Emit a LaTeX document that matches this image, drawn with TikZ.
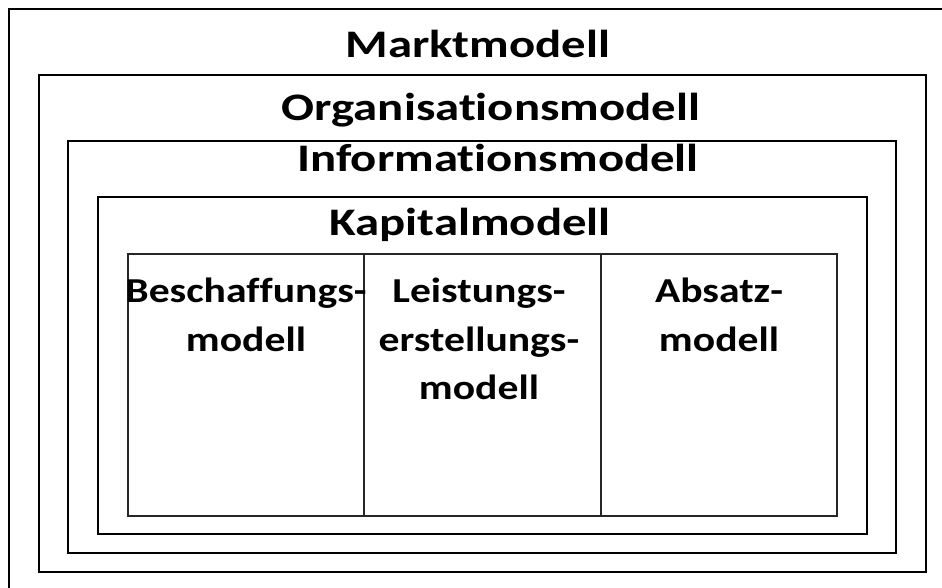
\documentclass[tikz,border=0pt]{standalone}
\usepackage{graphicx}
\usepackage{fontspec}
\setmainfont{Carlito}[Ligatures={NoCommon}]
\newcommand{\tx}[1]{\scalebox{1.25}[1]{#1}}
\newcommand{\cx}[1]{\scalebox{1.19}[1]{#1}}
\begin{document}
\begin{tikzpicture}[x=1pt,y=-1pt,
  frame/.style={draw=black,line width=2.6pt,rectangle,inner sep=0pt,outer sep=0pt},
  cell/.style={draw=black!85,line width=1.3pt,rectangle,inner sep=0pt,outer sep=0pt},
  title/.style={font=\bfseries\fontsize{39}{41}\selectfont,anchor=base,inner sep=0pt},
  celltext/.style={font=\bfseries\fontsize{35}{48.5}\selectfont,anchor=north,align=center,inner sep=0pt}]
\useasboundingbox (0,0) rectangle (942,588);
\clip (0,0) rectangle (942,588);
\fill[white] (0,0) rectangle (942,588);
\node[frame,minimum width=951pt,minimum height=601pt] (markt) at (484.5,309.5) {};
\node[frame,minimum width=887pt,minimum height=497pt] (org) at (482.5,323.5) {};
\node[frame,minimum width=828pt,minimum height=412pt] (info) at (482,347) {};
\node[frame,minimum width=769pt,minimum height=337pt] (kap) at (482.5,365.5) {};
\node[cell,minimum width=236pt,minimum height=262pt] (besch) at (246,385) {};
\node[cell,minimum width=237pt,minimum height=262pt] (leist) at (482.5,385) {};
\node[cell,minimum width=236pt,minimum height=262pt] (absatz) at (719,385) {};
\node[title] (tm) at (478,58) {\tx{Marktmodell}};
\node[title] (to) at (491,121) {\tx{Organisationsmodell}};
\node[title] (ti) at (498,172) {\tx{Informationsmodell}};
\node[title] (tk) at (470,236) {\tx{Kapitalmodell}};
\node[celltext] (tb) at (246,278) {\cx{Beschaffungs-}\\\cx{modell}};
\node[celltext] (tl) at (479,278) {\cx{Leistungs-}\\\cx{erstellungs-}\\\cx{modell}};
\node[celltext] (ta) at (719,278) {\cx{Absatz-}\\\cx{modell}};
\end{tikzpicture}
\end{document}
